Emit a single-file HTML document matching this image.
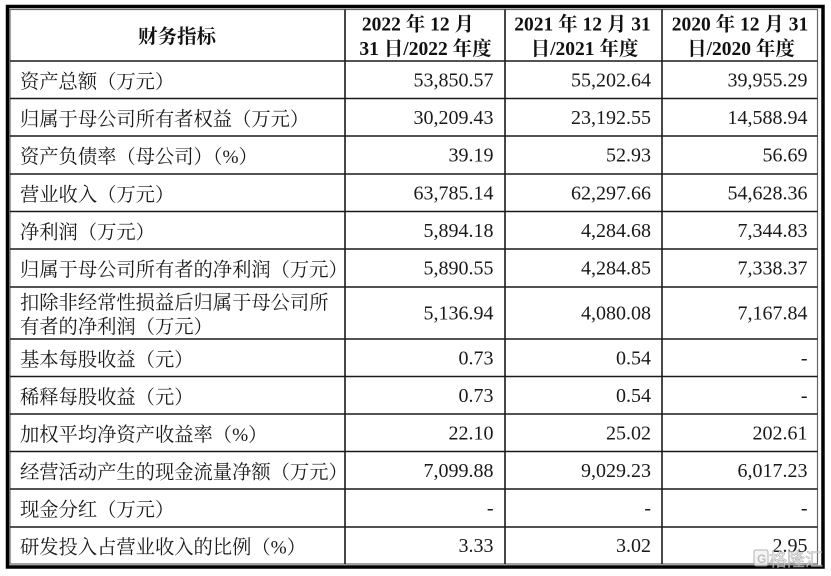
<!DOCTYPE html>
<html>
<head>
<meta charset="utf-8">
<style>
html,body{margin:0;padding:0;background:#fff;}
svg{display:block;}
.lb{font-family:"Liberation Serif","Noto Serif CJK SC",serif;font-size:19.3px;fill:#1a1a1a;}
.nm{font-family:"Liberation Serif","Noto Serif CJK SC",serif;font-size:20px;fill:#1a1a1a;text-anchor:end;}
.hd{font-family:"Liberation Serif","Noto Serif CJK SC",serif;font-size:19.5px;font-weight:bold;fill:#111;text-anchor:middle;}
</style>
</head>
<body>
<svg width="831" height="576" viewBox="0 0 831 576" xmlns="http://www.w3.org/2000/svg">
<rect x="0" y="0" width="831" height="576" fill="#fff"/>
<!-- outer frame -->
<rect x="7.5" y="6.5" width="815.5" height="560.5" fill="none" stroke="#000" stroke-width="3.5"/>
<rect x="10" y="9.5" width="807.5" height="554.5" fill="none" stroke="#666" stroke-width="1.2"/>
<!-- grid -->
<g stroke="#1a1a1a" stroke-width="1.6">
<line x1="345" y1="9.5" x2="345" y2="564"/>
<line x1="505" y1="9.5" x2="505" y2="564"/>
<line x1="662" y1="9.5" x2="662" y2="564"/>
<line x1="10" y1="61" x2="817.5" y2="61"/>
<line x1="10" y1="98.5" x2="817.5" y2="98.5"/>
<line x1="10" y1="136" x2="817.5" y2="136"/>
<line x1="10" y1="174" x2="817.5" y2="174"/>
<line x1="10" y1="211.5" x2="817.5" y2="211.5"/>
<line x1="10" y1="249" x2="817.5" y2="249"/>
<line x1="10" y1="287" x2="817.5" y2="287"/>
<line x1="10" y1="339" x2="817.5" y2="339"/>
<line x1="10" y1="376.5" x2="817.5" y2="376.5"/>
<line x1="10" y1="414" x2="817.5" y2="414"/>
<line x1="10" y1="451.5" x2="817.5" y2="451.5"/>
<line x1="10" y1="489" x2="817.5" y2="489"/>
<line x1="10" y1="527" x2="817.5" y2="527"/>
</g>
<!-- header -->
<text class="hd" x="177" y="43">财务指标</text>
<text class="hd" x="418" y="30.5">2022 年 12 月</text>
<text class="hd" x="425.5" y="55">31 日/2022 年度</text>
<text class="hd" x="582.5" y="30.5">2021 年 12 月 31</text>
<text class="hd" x="584.5" y="55">日/2021 年度</text>
<text class="hd" x="740" y="30.5">2020 年 12 月 31</text>
<text class="hd" x="741" y="55">日/2020 年度</text>
<!-- labels -->
<text class="lb" x="20" y="87.8">资产总额（万元）</text>
<text class="lb" x="20" y="125.3">归属于母公司所有者权益（万元）</text>
<text class="lb" x="20" y="163">资产负债率（母公司）（%）</text>
<text class="lb" x="20" y="200.8">营业收入（万元）</text>
<text class="lb" x="20" y="238.3">净利润（万元）</text>
<text class="lb" x="20" y="276">归属于母公司所有者的净利润（万元）</text>
<text class="lb" x="20" y="309">扣除非经常性损益后归属于母公司所</text>
<text class="lb" x="20" y="333">有者的净利润（万元）</text>
<text class="lb" x="20" y="365.8">基本每股收益（元）</text>
<text class="lb" x="20" y="403.3">稀释每股收益（元）</text>
<text class="lb" x="20" y="440.8">加权平均净资产收益率（%）</text>
<text class="lb" x="20" y="478.3">经营活动产生的现金流量净额（万元）</text>
<text class="lb" x="20" y="516">现金分红（万元）</text>
<text class="lb" x="20" y="553.5">研发投入占营业收入的比例（%）</text>
<!-- col 2 -->
<g class="nm">
<text class="nm" x="493.5" y="86.3">53,850.57</text>
<text class="nm" x="493.5" y="123.8">30,209.43</text>
<text class="nm" x="493.5" y="161.5">39.19</text>
<text class="nm" x="493.5" y="199.3">63,785.14</text>
<text class="nm" x="493.5" y="236.8">5,894.18</text>
<text class="nm" x="493.5" y="274.5">5,890.55</text>
<text class="nm" x="493.5" y="319.5">5,136.94</text>
<text class="nm" x="493.5" y="364.3">0.73</text>
<text class="nm" x="493.5" y="401.8">0.73</text>
<text class="nm" x="493.5" y="439.3">22.10</text>
<text class="nm" x="493.5" y="476.8">7,099.88</text>
<text class="nm" x="493.5" y="514.5">-</text>
<text class="nm" x="493.5" y="552">3.33</text>
<!-- col 3 -->
<text class="nm" x="651" y="86.3">55,202.64</text>
<text class="nm" x="651" y="123.8">23,192.55</text>
<text class="nm" x="651" y="161.5">52.93</text>
<text class="nm" x="651" y="199.3">62,297.66</text>
<text class="nm" x="651" y="236.8">4,284.68</text>
<text class="nm" x="651" y="274.5">4,284.85</text>
<text class="nm" x="651" y="319.5">4,080.08</text>
<text class="nm" x="651" y="364.3">0.54</text>
<text class="nm" x="651" y="401.8">0.54</text>
<text class="nm" x="651" y="439.3">25.02</text>
<text class="nm" x="651" y="476.8">9,029.23</text>
<text class="nm" x="651" y="514.5">-</text>
<text class="nm" x="651" y="552">3.02</text>
<!-- col 4 -->
<text class="nm" x="807.5" y="86.3">39,955.29</text>
<text class="nm" x="807.5" y="123.8">14,588.94</text>
<text class="nm" x="807.5" y="161.5">56.69</text>
<text class="nm" x="807.5" y="199.3">54,628.36</text>
<text class="nm" x="807.5" y="236.8">7,344.83</text>
<text class="nm" x="807.5" y="274.5">7,338.37</text>
<text class="nm" x="807.5" y="319.5">7,167.84</text>
<text class="nm" x="807.5" y="364.3">-</text>
<text class="nm" x="807.5" y="401.8">-</text>
<text class="nm" x="807.5" y="439.3">202.61</text>
<text class="nm" x="807.5" y="476.8">6,017.23</text>
<text class="nm" x="807.5" y="514.5">-</text>
<text class="nm" x="807.5" y="552">2.95</text>
</g>
<!-- watermark -->
<g opacity="0.75">
<rect x="754" y="550" width="14" height="16" rx="2" fill="#f2f2f2" stroke="#999" stroke-width="1"/>
<text x="757" y="563" font-family="Liberation Sans, sans-serif" font-size="12" font-weight="bold" fill="#aaa">G</text>
<text x="769" y="566" font-family="Liberation Sans, 'Noto Sans CJK SC', sans-serif" font-size="18" fill="#f4f4f4" stroke="#999" stroke-width="0.6">格隆汇</text>
</g>
</svg>
</body>
</html>
